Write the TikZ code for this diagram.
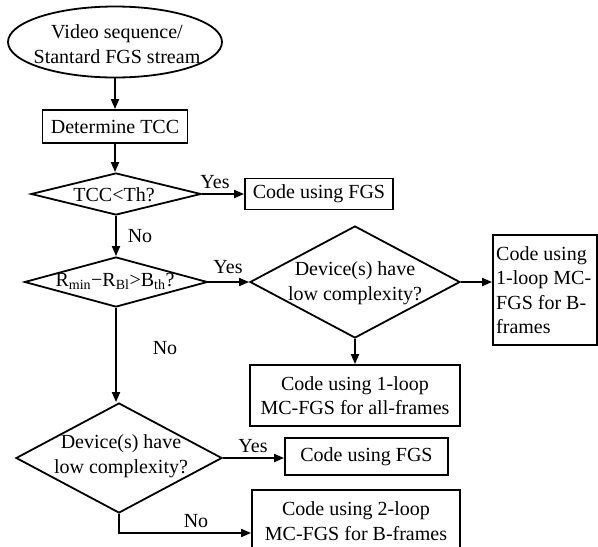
\documentclass[tikz,border=0pt]{standalone}
\usepackage{fontspec}
\setmainfont{Liberation Serif}
\usetikzlibrary{shapes.geometric,arrows.meta}
\begin{document}
\begin{tikzpicture}[x=1pt,y=-1pt,
  every node/.style={font=\fontsize{20}{24.5}\selectfont},
  box/.style={draw, line width=1.8pt, inner sep=0pt, align=center},
  dia/.style={draw, diamond, line width=1.8pt, inner sep=0pt},
  conn/.style={line width=1.8pt, -{Triangle[length=10pt,width=8pt]}},
  lbl/.style={inner sep=0pt}]
\useasboundingbox (0,0) rectangle (598,547);
\clip (0,0) rectangle (598,547);
\fill[white] (0,0) rectangle (598,547);

% nodes
\node[draw, ellipse, line width=1.8pt, minimum width=214pt, minimum height=71pt, inner sep=0pt] (src) at (115,42) {};
\node[align=center] (srct) at (117,44) {Video sequence/\\Stantard FGS stream};
\node[box, minimum width=145pt, minimum height=33pt] (tcc) at (115,126.5) {Determine TCC};
\node[dia, minimum width=170pt, minimum height=42pt] (q1) at (116,194) {};
\node (q1t) at (114,195) {TCC<Th?};
\node[box, minimum width=148pt, minimum height=31pt] (fgs1) at (319,194) {Code using FGS};
\node[dia, minimum width=183pt, minimum height=50pt] (q2) at (116,282) {};
\node (q2t) at (115,281) {R\textsubscript{min}−R\textsubscript{Bl}>B\textsubscript{th}?};
\node[dia, minimum width=210pt, minimum height=112pt] (q3) at (355,282) {};
\node[align=center] (q3t) at (355,283) {Device(s) have\\low complexity?};
\node[box, minimum width=104pt, minimum height=110pt] (b1) at (545,290) {};
\node[align=left, anchor=west, inner sep=0pt] (b1t) at (496,290) {Code using\\1-loop MC-\\FGS for B-\\frames};
\node[box, minimum width=210pt, minimum height=61pt] (all) at (355,395.5) {Code using 1-loop\\MC-FGS for all-frames};
\node[dia, minimum width=206pt, minimum height=110pt] (q4) at (119,458) {};
\node[align=center] (q4t) at (121,456) {Device(s) have\\low complexity?};
\node[box, minimum width=163pt, minimum height=37pt] (fgs2) at (366.5,456.5) {Code using FGS};
\node[box, minimum width=208pt, minimum height=62pt] (two) at (356,521) {Code using 2-loop\\MC-FGS for B-frames};
\coordinate (bend) at (119,533);

% connectors
\draw[conn] (src.south) -- (src.south |- tcc.north);
\draw[conn] (tcc.south) -- (tcc.south |- q1.north);
\draw[conn] (q1.east) -- (q1.east -| fgs1.west);
\draw[conn] (q1.south) -- (q1.south |- q2.north);
\draw[conn] (q2.east) -- (q2.east -| q3.west);
\draw[conn] (q3.east) -- (q3.east -| b1.west);
\draw[conn] (q3.south) -- (q3.south |- all.north);
\draw[conn] (q2.south) -- (q2.south |- q4.north);
\draw[conn] (q4.east) -- (q4.east -| fgs2.west);
\draw[conn] (q4.south) -- (bend) -- (bend -| two.west);

% labels
\node[lbl] (y1) at (215,182) {Yes};
\node[lbl] (n1) at (140,236) {No};
\node[lbl] (y2) at (228,267) {Yes};
\node[lbl] (n2) at (165,348) {No};
\node[lbl] (y3) at (253,446) {Yes};
\node[lbl] (n3) at (196,521) {No};
\end{tikzpicture}
\end{document}
